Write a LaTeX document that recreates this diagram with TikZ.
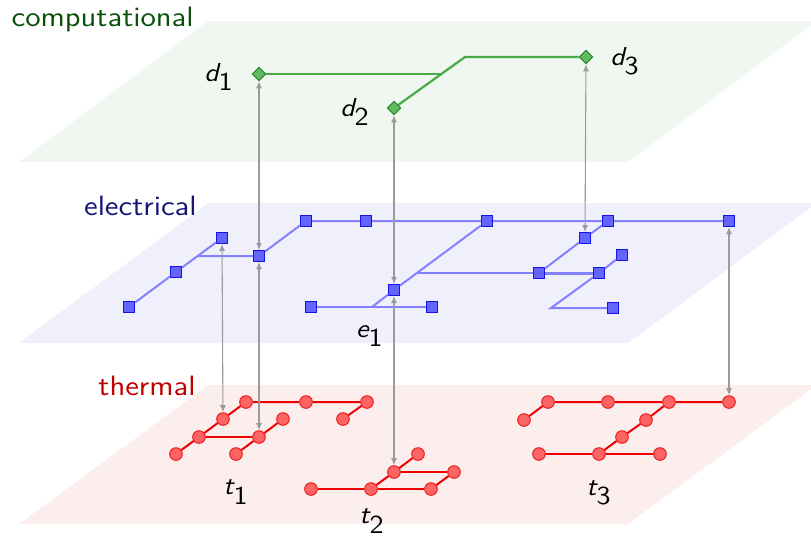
\documentclass[tikz,border=0pt]{standalone}
\usetikzlibrary{shapes.geometric,arrows.meta}
\definecolor{compfill}{RGB}{240,247,240}
\definecolor{elecfill}{RGB}{240,240,252}
\definecolor{thermfill}{RGB}{253,238,238}
\definecolor{compText}{RGB}{10,80,10}
\definecolor{elecText}{RGB}{20,20,120}
\definecolor{thermText}{RGB}{190,0,0}
\definecolor{compLine}{RGB}{70,170,70}
\definecolor{compNode}{RGB}{100,185,100}
\definecolor{compDraw}{RGB}{40,140,40}
\definecolor{elecLine}{RGB}{130,130,255}
\definecolor{elecNode}{RGB}{100,100,255}
\definecolor{elecDraw}{RGB}{20,20,230}
\definecolor{thermLine}{RGB}{240,0,0}
\definecolor{thermNode}{RGB}{255,100,100}
\definecolor{thermDraw}{RGB}{235,30,30}
\definecolor{arrowGray}{RGB}{155,155,155}
\newcommand{\wide}[1]{\scalebox{1.12}[1]{#1}}
\newcommand{\mwide}[1]{\scalebox{1.1}[1]{#1}}
\newcommand{\lab}[2]{\mwide{$\textsf{\itshape #1}_{\textsf{#2}}$}}
\begin{document}
\begin{tikzpicture}[x=0.5pt,y=-0.5pt,
  layerlabel/.style={anchor=base east, inner sep=0pt, font=\sffamily\fontsize{14}{16}\selectfont},
  mathlabel/.style={inner sep=0pt, font=\sffamily\fontsize{13}{15}\selectfont},
  cnode/.style={diamond, fill=compNode, draw=compDraw, line width=0.5pt, minimum size=6.8pt, inner sep=0pt},
  enode/.style={rectangle, fill=elecNode, draw=elecDraw, line width=0.5pt, minimum size=5.5pt, inner sep=0pt},
  tnode/.style={circle, fill=thermNode, draw=thermDraw, line width=0.5pt, minimum size=6.3pt, inner sep=0pt},
  cline/.style={compLine, line width=1.1pt},
  eline/.style={elecLine, line width=1pt},
  tline/.style={thermLine, line width=1pt},
  link/.style={arrowGray, line width=0.55pt, {Latex[length=3.5pt,width=3pt]}-{Latex[length=3.5pt,width=3pt]}}
]
\path[use as bounding box] (0,0) rectangle (811,538);
\clip (0,0) rectangle (811,538);

% planes
\fill[compfill] (208,21) -- (817,21) -- (628,162) -- (19,162) -- cycle;
\fill[elecfill] (208,203) -- (817,203) -- (628,343) -- (19,343) -- cycle;
\fill[thermfill] (208,385) -- (817,385) -- (628,524) -- (19,524) -- cycle;

% layer labels
\node[layerlabel, text=compText] (lc) at (194,26) {\wide{computational}};
\node[layerlabel, text=elecText] (le) at (197,215) {\wide{electrical}};
\node[layerlabel, text=thermText] (lt) at (196,395) {\wide{thermal}};

% computational nodes
\node[cnode] (d1) at (259,74) {};
\node[cnode] (d2) at (394,108) {};
\node[cnode] (d3) at (586,57) {};
\coordinate (cb) at (465,57);
\coordinate (cj) at (442,74);
\draw[cline] (d2) -- (cb) -- (d3);
\draw[cline] (d1) -- (cj);

% electrical nodes
\node[enode] (ea) at (129,307) {};
\node[enode] (eb) at (176,272) {};
\node[enode] (ec) at (222,238) {};
\node[enode] (ed) at (259,256) {};
\node[enode] (ef) at (306,221) {};
\node[enode] (eg) at (366,221) {};
\node[enode] (eh) at (487,221) {};
\node[enode] (ei) at (608,221) {};
\node[enode] (ej) at (729,221) {};
\node[enode] (e1) at (394,290) {};
\node[enode] (ek) at (311,307) {};
\node[enode] (el) at (432,307) {};
\node[enode] (em) at (585,238) {};
\node[enode] (en) at (622,255) {};
\node[enode] (eo) at (539,273) {};
\node[enode] (ep) at (599,273) {};
\node[enode] (eq) at (613,308) {};
\coordinate (ej1) at (198,256);
\coordinate (ej2) at (372,307);
\coordinate (ej3) at (417,273);
\coordinate (ej4) at (551,308);
\draw[eline] (ea) -- (eb) -- (ec);
\draw[eline] (ej1) -- (ed) -- (ef) -- (eg) -- (eh) -- (ei) -- (ej);
\draw[eline] (ek) -- (el);
\draw[eline] (ej2) -- (e1) -- (eh);
\draw[eline] (ej3) -- (eo);
\draw[eline, line width=1.5pt] (eo) -- (ep);
\draw[eline] (eo) -- (em) -- (ei);
\draw[eline] (ep) -- (en);
\draw[eline] (ep) -- (ej4) -- (eq);

% thermal nodes
\node[tnode] (ta) at (246,402) {};
\node[tnode] (tb) at (306,402) {};
\node[tnode] (tc) at (367,402) {};
\node[tnode] (td) at (223,419) {};
\node[tnode] (te) at (283,419) {};
\node[tnode] (tf) at (343,419) {};
\node[tnode] (tg) at (199,437) {};
\node[tnode] (th) at (259,437) {};
\node[tnode] (ti) at (176,454) {};
\node[tnode] (tj) at (236,454) {};
\node[tnode] (tk) at (418,454) {};
\node[tnode] (tl) at (394,472) {};
\node[tnode] (tm) at (454,472) {};
\node[tnode] (tn) at (311,489) {};
\node[tnode] (to) at (371,489) {};
\node[tnode] (tp) at (431,489) {};
\node[tnode] (tq) at (548,402) {};
\node[tnode] (tr) at (608,402) {};
\node[tnode] (ts) at (669,402) {};
\node[tnode] (tt) at (729,402) {};
\node[tnode] (tu) at (524,420) {};
\node[tnode] (tv) at (646,420) {};
\node[tnode] (tw) at (622,437) {};
\node[tnode] (tx) at (539,454) {};
\node[tnode] (ty) at (599,454) {};
\node[tnode] (tz) at (660,454) {};
\draw[tline] (ti) -- (tg) -- (td) -- (ta) -- (tb) -- (tc);
\draw[tline] (tf) -- (tc);
\draw[tline] (tg) -- (th);
\draw[tline] (tj) -- (th) -- (te);
\draw[tline] (tn) -- (to) -- (tp);
\draw[tline] (to) -- (tl) -- (tk);
\draw[tline] (tl) -- (tm);
\draw[tline] (tp) -- (tm);
\draw[tline] (tu) -- (tq) -- (tr) -- (ts) -- (tt);
\draw[tline] (ts) -- (tv) -- (tw) -- (ty);
\draw[tline] (tx) -- (ty) -- (tz);

% inter-layer links
\draw[link] (d1) -- (ed);
\draw[link] (ed) -- (th);
\draw[link] (ec) -- (td);
\draw[link] (d2) -- (e1);
\draw[link] (e1) -- (tl);
\draw[link] (d3) -- (em);
\draw[link] (ej) -- (tt);

% labels
\node[mathlabel] (ld1) at (219,77) {\lab{d}{1}};
\node[mathlabel] (ld2) at (355,112) {\lab{d}{2}};
\node[mathlabel] (ld3) at (625,61) {\lab{d}{3}};
\node[mathlabel] (le1) at (370,336) {\lab{e}{1}};
\node[mathlabel] (lt1) at (236,492) {\lab{t}{1}};
\node[mathlabel] (lt2) at (372,521) {\lab{t}{2}};
\node[mathlabel] (lt3) at (599,493) {\lab{t}{3}};
\end{tikzpicture}
\end{document}
